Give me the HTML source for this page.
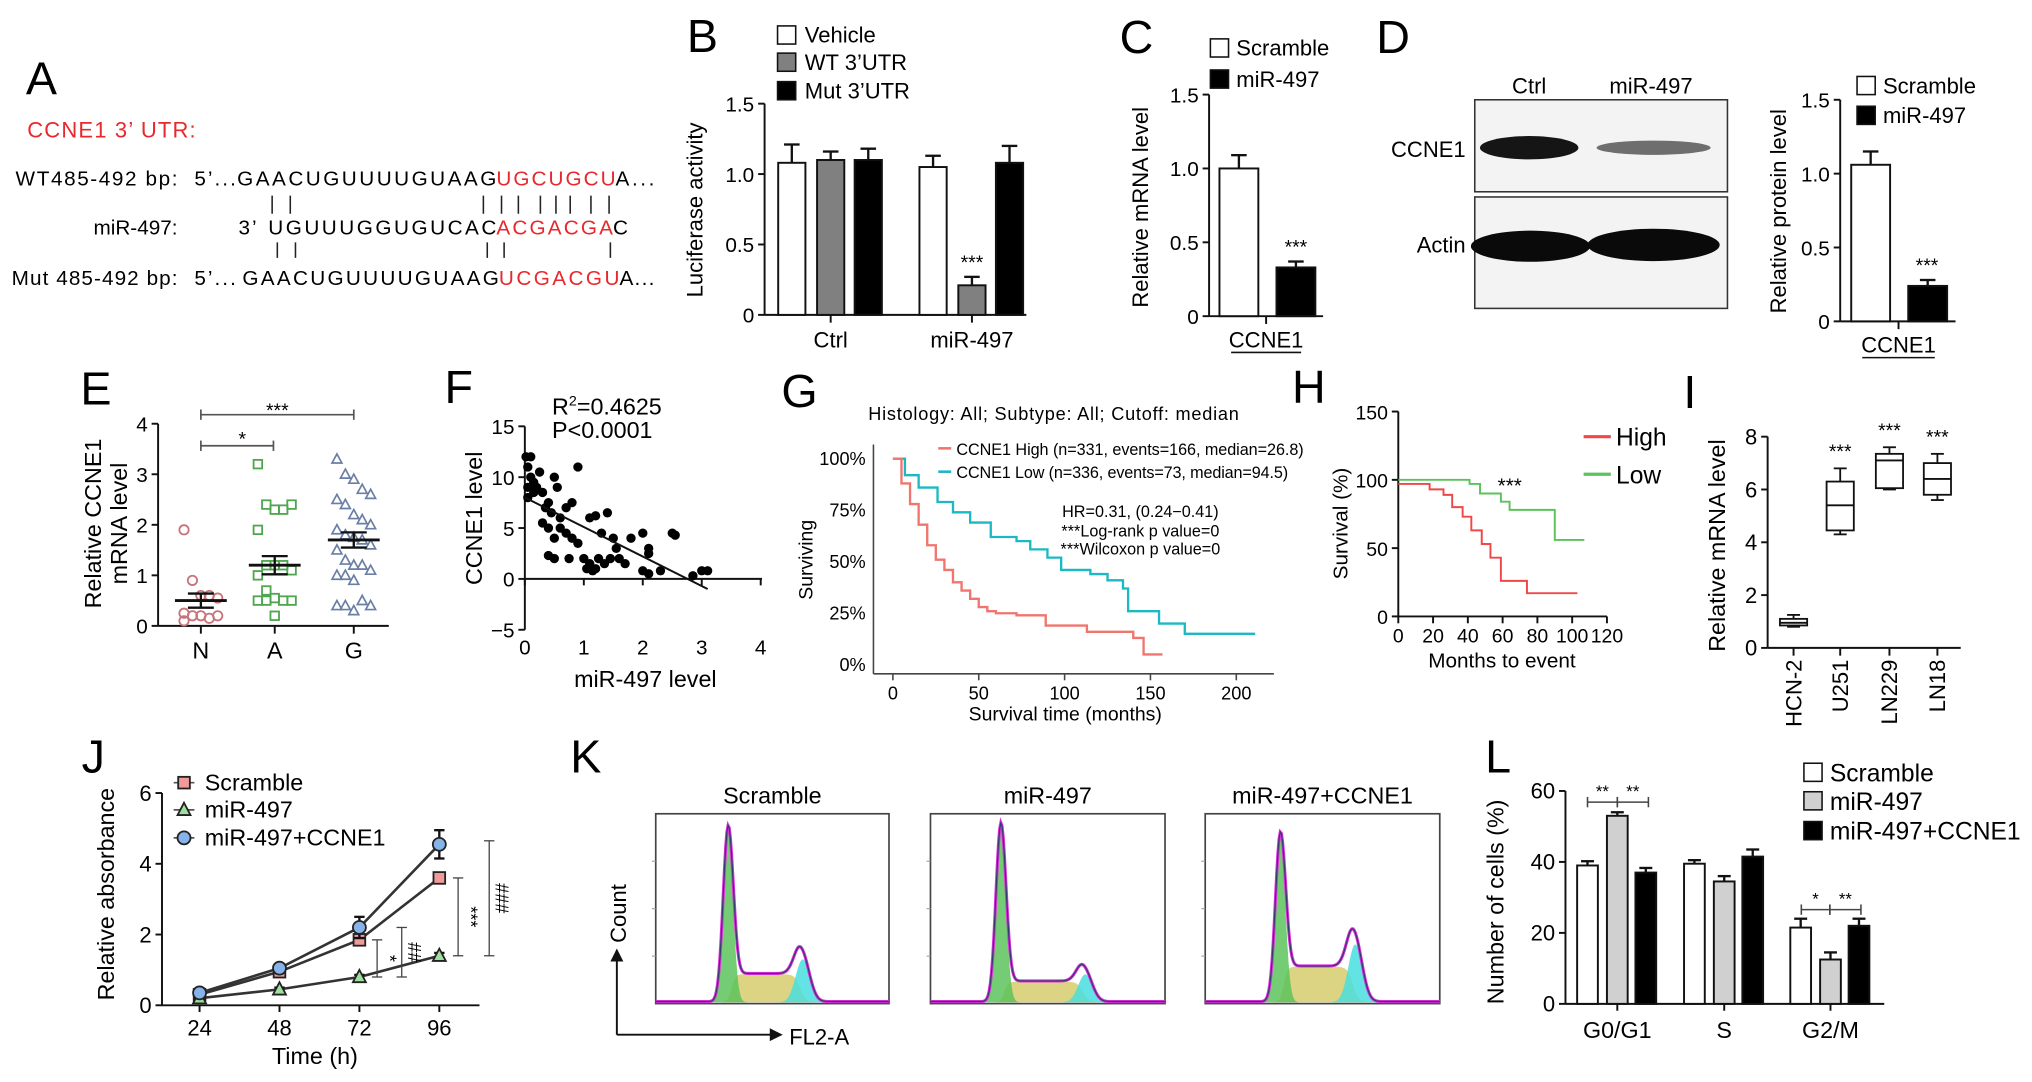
<!DOCTYPE html>
<html><head><meta charset="utf-8"><style>
html,body{margin:0;padding:0;background:#fff;}
svg{display:block;font-family:"Liberation Sans",sans-serif;}
</style></head><body>
<svg id="fig" xmlns="http://www.w3.org/2000/svg" width="2032" height="1082" viewBox="0 0 1568 835" preserveAspectRatio="none">
<rect x="0" y="0" width="1568" height="835" fill="#fff"/>
<!-- Panel A -->
<g font-size="16">
<text x="20" y="73" font-size="36">A</text>
<text x="21" y="106" font-size="17" fill="#e8282c" textLength="130">CCNE1 3’ UTR:</text>
<text x="12" y="143" textLength="125">WT485-492 bp:</text>
<text x="150" y="143" textLength="32">5’...</text>
<text x="183" y="143" textLength="200">GAACUGUUUUGUAAG</text>
<text x="383" y="143" textLength="92" fill="#e8282c">UGCUGCU</text>
<text x="475" y="143" textLength="30">A...</text>
<text x="137" y="181" text-anchor="end">miR-497:</text>
<text x="184" y="181" textLength="14">3’</text>
<text x="207" y="181" textLength="176">UGUUUGGUGUCAC</text>
<text x="383" y="181" textLength="90" fill="#e8282c">ACGACGA</text>
<text x="473" y="181" textLength="12">C</text>
<text x="9" y="220" textLength="128">Mut 485-492 bp:</text>
<text x="150" y="220" textLength="32">5’...</text>
<text x="187" y="220" textLength="198">GAACUGUUUUGUAAG</text>
<text x="385" y="220" textLength="93" fill="#e8282c">UCGACGU</text>
<text x="478" y="220" textLength="27">A...</text>
<g stroke="#222" stroke-width="1.2">
<path d="M210 151V165M224 151V165M373 151V165M387 151V165M400 151V165M417 151V165M429 151V165M440 151V165M456 151V165M470 151V165"/>
<path d="M214 187V199M228 187V199M376 187V199M389 187V199M471 187V199"/>
</g>
</g>
<!-- Panel D blot -->
<g>
<text x="1062" y="41" font-size="36">D</text>
<text x="1180" y="72" font-size="17" text-anchor="middle">Ctrl</text>
<text x="1274" y="72" font-size="17" text-anchor="middle">miR-497</text>
<rect x="1138" y="77" width="195" height="71" fill="#f3f3f3" stroke="#333" stroke-width="1.2"/>
<rect x="1138" y="152" width="195" height="86" fill="#f3f3f3" stroke="#333" stroke-width="1.2"/>
<text x="1131" y="121" font-size="17" text-anchor="end">CCNE1</text>
<text x="1131" y="195" font-size="17" text-anchor="end">Actin</text>
<ellipse cx="1180" cy="114" rx="38" ry="9" fill="#151515"/>
<ellipse cx="1276" cy="114" rx="44" ry="5.5" fill="#6e6e6e"/>
<ellipse cx="1181" cy="190" rx="46" ry="12" fill="#0a0a0a"/>
<ellipse cx="1276" cy="189" rx="51" ry="12.5" fill="#0a0a0a"/>
</g>
<g id="dyn"></g>
</svg>
<script>
// ---------- data ----------
const bCats=['Ctrl','miR-497'];
const bVehicle=[1.08,1.05];
const bWT=[1.10,0.21];
const bMut=[1.10,1.08];
const bVehicleErr=[0.13,0.08];
const bWTErr=[0.06,0.06];
const bMutErr=[0.08,0.12];
const bTicks=[0,0.5,1.0,1.5];
const bTickLabels=['0','0.5','1.0','1.5'];
const cValues=[1.0,0.33];
const cErr=[0.09,0.04];
const dValues=[1.06,0.24];
const dErr=[0.09,0.04];
const cdTicks=[0,0.5,1.0,1.5];
const cdTickLabels=['0','0.5','1.0','1.5'];
const eCats=['N','A','G'];
const eN=[1.9,0.9,0.6,0.6,0.55,0.25,0.2,0.2,0.15,0.2,0.1];
const eA=[3.2,2.4,2.3,2.3,2.4,1.9,1.2,1.2,1.2,1.1,1.0,0.7,0.55,0.5,0.5,0.5,0.5,0.2];
const eG=[3.3,3.0,2.9,2.7,2.6,2.5,2.4,2.2,2.1,2.0,1.9,1.8,1.75,1.7,1.6,1.5,1.3,1.2,1.2,1.1,1.0,1.0,0.9,0.5,0.4,0.4,0.4,0.3];
const eMean=[0.5,1.2,1.7];
const eSem=[0.14,0.18,0.15];
const eTicks=[0,1,2,3,4];
const fX=[0.02,0.1,0.05,0.1,0.15,0.2,0.05,0.3,0.4,0.35,0.5,0.55,0.45,0.6,0.7,0.8,0.9,0.3,0.4,0.4,0.5,0.7,0.8,0.9,0.75,1.0,1.1,1.2,1.05,1.1,1.2,1.4,1.3,1.5,1.55,1.6,1.7,1.45,1.35,1.8,2.0,2.1,2.1,2.0,2.1,2.3,2.5,2.55,2.85,3.0,3.1,0.05,0.15,0.25,0.6,0.5,1.25,1.15];
const fY=[12,12,11,10,9.5,9,9,8.5,7.5,7,10,9,6.5,6,7,7.5,11,5.5,5,2.3,2,4.5,4,3.5,2,2,1.5,1,1,6,6.2,6.5,4.5,4,3,2,1.5,2,1.5,4,4.5,3,2.5,0.8,0.5,0.8,4.5,4.3,0.3,0.8,0.8,8,8.5,10.5,5,4,2,0.8];
const fFit=[8,-2.9];
const fXTicks=[0,1,2,3,4];
const fYTicks=[-5,0,5,10,15];
const gHighT=[0,5,10,15,20,25,30,35,40,45,50,55,60,72,89,113,140,146,157];
const gHighP=[100,88,78,68,58,51,46,40,36,32,28,26,25,24,19,16,13,5,5];
const gLowT=[0,7,15,26,35,45,57,72,80,90,98,115,125,134,137,155,170,211];
const gLowP=[100,92,86,79,74,69,62,60,56,52,46,44,41,37,26,20,15,15];
const gXTicks=[0,50,100,150,200];
const gYTicks=[0,25,50,75,100];
const hHighT=[0,18,26,31,37,42,48,53,59,74,103];
const hHighP=[97,93,89,80,73,63,53,43,26,17,17];
const hLowT=[0,41,47,59,64,90,107];
const hLowP=[100,97,90,84,78,56,56];
const hXTicks=[0,20,40,60,80,100,120];
const hYTicks=[0,50,100,150];
const iCats=['HCN-2','U251','LN229','LN18'];
const iMin=[0.8,4.3,6.0,5.6];
const iQ1=[0.85,4.45,6.05,5.8];
const iMed=[0.95,5.4,7.1,6.4];
const iQ3=[1.1,6.3,7.35,7.0];
const iMax=[1.25,6.8,7.6,7.35];
const iTicks=[0,2,4,6,8];
const jHours=[24,48,72,96];
const jScramble=[0.3,0.95,1.85,3.6];
const jScrambleErr=[0.05,0.08,0.15,0.12];
const jMir=[0.2,0.45,0.8,1.4];
const jMirErr=[0.03,0.05,0.06,0.08];
const jRescue=[0.35,1.05,2.2,4.55];
const jRescueErr=[0.05,0.08,0.3,0.4];
const jTicks=[0,2,4,6];
const kSamples=['Scramble','miR-497','miR-497+CCNE1'];
const kG1Pos=[0.31,0.30,0.32];
const kG1Height=[0.92,0.94,0.88];
const kSLevel=[0.15,0.11,0.19];
const kG2Pos=[0.63,0.66,0.64];
const kG2Height=[0.23,0.15,0.31];
const lCats=['G0/G1','S','G2/M'];
const lScramble=[39,39.5,21.5];
const lMir=[53,34.5,12.5];
const lRescue=[37,41.5,22];
const lScrambleErr=[1.2,1,2.5];
const lMirErr=[1,1.5,2];
const lRescueErr=[1.3,2,2];
const lTicks=[0,20,40,60];

// ---------- helpers ----------
const NS='http://www.w3.org/2000/svg';
const root=document.getElementById('dyn');
function mk(tag,attrs,parent){const e=document.createElementNS(NS,tag);for(const k in attrs)e.setAttribute(k,attrs[k]);(parent||root).appendChild(e);return e;}
function nm(e,name){
  
  
  return e;}
function T(x,y,s,size,extra,name,g){const a=Object.assign({x:x,y:y,'font-size':size},extra||{});const e=mk('text',a,g);e.textContent=s;return nm(e,name);}
function L(x1,y1,x2,y2,name,g,w,col){return nm(mk('line',{x1:x1,y1:y1,x2:x2,y2:y2,stroke:col||'#111','stroke-width':w||1.5},g),name);}
function grp(name){return nm(mk('g',{}),name);}
function lin(d0,d1,r0,r1){return v=>r0+(v-d0)*(r1-r0)/(d1-d0);}
function ylabel(x,y,s,size,name,g){return T(x,y,s,size,{'text-anchor':'middle',transform:'rotate(-90 '+x+' '+y+')'},name,g);}
function yaxis(g,x,ys,ticks,labels,ytop,ybot,size,pref){L(x,ytop,x,ybot,pref+'-y-axis',g);ticks.forEach((t,i)=>{L(x-5,ys(t),x,ys(t),pref+'-y-tick',g);T(x-8,ys(t)+6,labels[i],size,{'text-anchor':'end'},pref+'-y-tick-label',g);});}
function bar(g,cx,w,y0,y1,fill,name){return nm(mk('rect',{x:cx-w/2,y:Math.min(y0,y1),width:w,height:Math.abs(y0-y1),fill:fill,stroke:'#111','stroke-width':1.5},g),name);}
function err(g,cx,yv,ye,cap,name){L(cx,yv,cx,ye,name,g,1.8);L(cx-cap,ye,cx+cap,ye,name+'-cap',g,1.8);}

// ---------- Panel B ----------
(function(){const g=grp('panel-b');
T(530,40,'B',36,{},'panel-b-label',g);
const y=lin(0,1.5,243,80);
yaxis(g,590,y,bTicks,bTickLabels,80,243,16,'b');
L(590,243,792,243,'b-x-axis',g);
ylabel(542,162,'Luciferase activity',17,'b-y-axis-title',g);
const centers=[641,750],offs=[-30,0,29],w=21;
const series=[[bVehicle,bVehicleErr,'#fff','vehicle'],[bWT,bWTErr,'#808080','wt-3utr'],[bMut,bMutErr,'#000','mut-3utr']];
bCats.forEach((c,i)=>{L(centers[i],243,centers[i],249,'b-x-tick',g);T(centers[i],268,c,17,{'text-anchor':'middle'},'b-x-label',g);
 series.forEach((s,j)=>{const cx=centers[i]+offs[j];err(g,cx,y(s[0][i]),y(s[0][i]+s[1][i]),6,'b-error-bar');bar(g,cx,w,y(0),y(s[0][i]),s[2],'bar-'+s[3]);});});
T(centers[1],y(bWT[1]+bWTErr[1])-6,'***',15,{'text-anchor':'middle'},'b-significance',g);
[['Vehicle','#fff',27],['WT 3’UTR','#808080',48],['Mut 3’UTR','#000',70]].forEach(l=>{nm(mk('rect',{x:600,y:l[2]-7,width:14,height:14,fill:l[1],stroke:'#111','stroke-width':1.2},g),'legend-swatch');T(621,l[2]+6,l[0],17,{},'legend-entry',g);});
})();

// ---------- Panel C ----------
(function(){const g=grp('panel-c');
T(864,41,'C',36,{},'panel-c-label',g);
const y=lin(0,1.5,244,73);
yaxis(g,933,y,cdTicks,cdTickLabels,73,244,16,'c');
L(933,244,1021,244,'c-x-axis',g);L(977,244,977,250,'c-x-tick',g);
ylabel(886,160,'Relative mRNA level',17,'c-y-axis-title',g);
const cx=[956,1000],fills=['#fff','#000'],names=['bar-scramble','bar-mir497'];
cValues.forEach((v,i)=>{err(g,cx[i],y(v),y(v+cErr[i]),6,'c-error-bar');bar(g,cx[i],30,y(0),y(v),fills[i],names[i]);});
T(1000,y(cValues[1]+cErr[1])-6,'***',15,{'text-anchor':'middle'},'c-significance',g);
T(977,268,'CCNE1',17,{'text-anchor':'middle'},'c-x-label',g);L(950,272,1004,272,'c-x-underline',g,1.2);
[['Scramble','#fff',37],['miR-497','#000',61]].forEach(l=>{nm(mk('rect',{x:934,y:l[2]-7,width:14,height:14,fill:l[1],stroke:'#111','stroke-width':1.2},g),'legend-swatch');T(954,l[2]+6,l[0],17,{},'legend-entry',g);});
})();

// ---------- Panel D chart ----------
(function(){const g=grp('panel-d-chart');
const y=lin(0,1.5,248,77);
yaxis(g,1420,y,cdTicks,cdTickLabels,77,248,16,'d');
L(1420,248,1509,248,'d-x-axis',g);L(1465,248,1465,254,'d-x-tick',g);
ylabel(1378,163,'Relative protein level',17,'d-y-axis-title',g);
const cx=[1443.5,1487.5],fills=['#fff','#000'],names=['bar-scramble','bar-mir497'];
dValues.forEach((v,i)=>{err(g,cx[i],y(v),y(v+dErr[i]),6,'d-error-bar');bar(g,cx[i],30,y(0),y(v),fills[i],names[i]);});
T(1487,y(dValues[1]+dErr[1])-6,'***',15,{'text-anchor':'middle'},'d-significance',g);
T(1465,272,'CCNE1',17,{'text-anchor':'middle'},'d-x-label',g);L(1437,276,1493,276,'d-x-underline',g,1.2);
[['Scramble','#fff',66],['miR-497','#000',89]].forEach(l=>{nm(mk('rect',{x:1433,y:l[2]-7,width:14,height:14,fill:l[1],stroke:'#111','stroke-width':1.2},g),'legend-swatch');T(1453,l[2]+6,l[0],17,{},'legend-entry',g);});
})();

// ---------- Panel E ----------
(function(){const g=grp('panel-e');
T(62,312,'E',36,{},'panel-e-label',g);
const y=lin(0,4,483,327);
yaxis(g,122,y,eTicks,eTicks.map(String),327,483,16,'e');
L(122,483,300,483,'e-x-axis',g);
ylabel(78,404,'Relative CCNE1',18,'e-y-axis-title-1',g);ylabel(98,404,'mRNA level',18,'e-y-axis-title-2',g);
const xs=[155,212,273],data=[eN,eA,eG],cols=['#c8737a','#4fa64f','#6a7fa5'];
data.forEach((arr,ci)=>{L(xs[ci],483,xs[ci],489,'e-x-tick',g);T(xs[ci],508,eCats[ci],18,{'text-anchor':'middle'},'e-x-label',g);
 arr.forEach((v,i)=>{const dx=((i%5)-2)*6.5,cx=xs[ci]+dx,cy=y(v);let m;
  if(ci===0)m=mk('circle',{cx:cx,cy:cy,r:3.6,fill:'none',stroke:cols[0],'stroke-width':1.4},g);
  else if(ci===1)m=mk('rect',{x:cx-3.3,y:cy-3.3,width:6.6,height:6.6,fill:'none',stroke:cols[1],'stroke-width':1.4},g);
  else m=mk('path',{d:'M'+cx+' '+(cy-4)+'L'+(cx+3.8)+' '+(cy+3)+'L'+(cx-3.8)+' '+(cy+3)+'Z',fill:'none',stroke:cols[2],'stroke-width':1.3},g);
  nm(m,'e-point-'+eCats[ci]);});
 const m=eMean[ci],s=eSem[ci];L(xs[ci]-20,y(m),xs[ci]+20,y(m),'e-mean-line',g,2.2);
 L(xs[ci],y(m-s),xs[ci],y(m+s),'e-sem-bar',g,1.8);L(xs[ci]-10,y(m-s),xs[ci]+10,y(m-s),'e-sem-cap',g,1.8);L(xs[ci]-10,y(m+s),xs[ci]+10,y(m+s),'e-sem-cap',g,1.8);});
L(155,320,273,320,'e-bracket-ng',g,1.3,'#555');L(155,316,155,324,'e-bracket-end',g,1.3,'#555');L(273,316,273,324,'e-bracket-end',g,1.3,'#555');T(214,322,'***',15,{'text-anchor':'middle'},'e-significance',g);
L(155,344,211,344,'e-bracket-na',g,1.3,'#555');L(155,340,155,348,'e-bracket-end',g,1.3,'#555');L(211,340,211,348,'e-bracket-end',g,1.3,'#555');T(187,344,'*',15,{'text-anchor':'middle'},'e-significance',g);
})();

// ---------- Panel F ----------
(function(){const g=grp('panel-f');
T(343,311,'F',36,{},'panel-f-label',g);
const x=lin(0,4,405,587),y=lin(-5,15,486,329);
yaxis(g,405,y,fYTicks,fYTicks.map(v=>v<0?'\u22125':String(v)),329,486,16,'f');
L(405,y(0),588,y(0),'f-x-axis',g);
fXTicks.forEach(t=>{L(x(t),y(0),x(t),y(0)+5,'f-x-tick',g);T(x(t),505,String(t),16,{'text-anchor':'middle'},'f-x-tick-label',g);});
T(498,530,'miR-497 level',18,{'text-anchor':'middle'},'f-x-axis-title',g);
ylabel(372,400,'CCNE1 level',18,'f-y-axis-title',g);
const r=T(426,320,'R',18,{},'f-r-squared',g);const sup=mk('tspan',{'font-size':11,dy:-7},r);sup.textContent='2';const rest=mk('tspan',{dy:7},r);rest.textContent='=0.4625';
T(426,338,'P<0.0001',18,{},'f-p-value',g);
fX.forEach((v,i)=>nm(mk('circle',{cx:x(v),cy:y(fY[i]),r:3.6,fill:'#000'},g),'f-point'));
const x1=0,x2=3.1;L(x(x1),y(fFit[0]+fFit[1]*x1),x(x2),y(fFit[0]+fFit[1]*x2),'f-regression-line',g,1.5);
})();

// ---------- Panel G ----------
(function(){const g=grp('panel-g');
T(603,314,'G',36,{},'panel-g-label',g);
T(670,324,'Histology: All; Subtype: All; Cutoff: median',14,{textLength:286},'g-title',g);
const x=lin(0,200,689,954),y=lin(0,100,513,354);
L(674,343,674,520,'g-y-axis',g,1.2,'#444');L(674,520,983,520,'g-x-axis',g,1.2,'#444');
gYTicks.forEach(t=>T(668,y(t)+5,t+'%',14,{'text-anchor':'end'},'g-y-tick-label',g));
gXTicks.forEach(t=>{L(x(t),520,x(t),525,'g-x-tick',g,1.2,'#444');T(x(t),540,String(t),14,{'text-anchor':'middle'},'g-x-tick-label',g);});
T(822,556,'Survival time (months)',15,{'text-anchor':'middle'},'g-x-axis-title',g);
ylabel(627,432,'Surviving',15,'g-y-axis-title',g);
function km(ts,ps,col,name){let d='M'+x(ts[0])+' '+y(ps[0]);for(let i=1;i<ts.length;i++)d+='H'+x(ts[i])+'V'+y(ps[i]);nm(mk('path',{d:d,fill:'none',stroke:col,'stroke-width':1.8},g),name);}
km(gLowT,gLowP,'#1cb8c3','g-curve-low');km(gHighT,gHighP,'#f0756d','g-curve-high');
L(724,346,734,346,'g-legend-line-high',g,2,'#f0756d');T(738,351,'CCNE1 High (n=331, events=166, median=26.8)',12.5,{textLength:268},'g-legend-high',g);
L(724,364,734,364,'g-legend-line-low',g,2,'#1cb8c3');T(738,369,'CCNE1 Low (n=336, events=73, median=94.5)',12.5,{textLength:256},'g-legend-low',g);
T(880,399,'HR=0.31, (0.24\u22120.41)',12.5,{'text-anchor':'middle'},'g-hazard-ratio',g);
T(880,414,'***Log-rank p value=0',12.5,{'text-anchor':'middle'},'g-logrank',g);
T(880,428,'***Wilcoxon p value=0',12.5,{'text-anchor':'middle'},'g-wilcoxon',g);
})();

// ---------- Panel H ----------
(function(){const g=grp('panel-h');
T(997,311,'H',36,{},'panel-h-label',g);
const x=lin(0,120,1079,1240),y=lin(0,150,475.7,317.6);
yaxis(g,1079,y,hYTicks,hYTicks.map(String),317.6,475.7,15,'h');
L(1079,475.7,1240,475.7,'h-x-axis',g);
hXTicks.forEach(t=>{L(x(t),475.7,x(t),481,'h-x-tick',g);T(x(t),496,String(t),15,{'text-anchor':'middle'},'h-x-tick-label',g);});
T(1159,515,'Months to event',16,{'text-anchor':'middle'},'h-x-axis-title',g);
ylabel(1040,404,'Survival (%)',16,'h-y-axis-title',g);
function km(ts,ps,col,name){let d='M'+x(ts[0])+' '+y(ps[0]);for(let i=1;i<ts.length;i++)d+='H'+x(ts[i])+'V'+y(ps[i]);nm(mk('path',{d:d,fill:'none',stroke:col,'stroke-width':1.5},g),name);}
km(hLowT,hLowP,'#5cc25c','h-curve-low');km(hHighT,hHighP,'#f04848','h-curve-high');
T(1165,380,'***',16,{'text-anchor':'middle'},'h-significance',g);
L(1222,337,1243,337,'h-legend-line-high',g,2.5,'#f04848');T(1247,344,'High',19,{},'h-legend-high',g);
L(1222,366,1243,366,'h-legend-line-low',g,2.5,'#5cc25c');T(1247,373,'Low',19,{},'h-legend-low',g);
})();

// ---------- Panel I ----------
(function(){const g=grp('panel-i');
T(1299,315,'I',36,{},'panel-i-label',g);
const y=lin(0,8,500,337),xs=[1384,1420,1458,1495],w=21;
yaxis(g,1364,y,iTicks,iTicks.map(String),337,500,17,'i');
L(1364,500,1513,500,'i-x-axis',g);
ylabel(1331,421,'Relative mRNA level',18,'i-y-axis-title',g);
iCats.forEach((c,i)=>{const cx=xs[i];L(cx,500,cx,506,'i-x-tick',g);
 T(cx+6,509,c,17,{'text-anchor':'end',transform:'rotate(-90 '+(cx+6)+' 509)'},'i-x-label',g);
 L(cx,y(iMin[i]),cx,y(iMax[i]),'i-whisker',g,1.4);L(cx-5,y(iMin[i]),cx+5,y(iMin[i]),'i-whisker-cap',g,1.4);L(cx-5,y(iMax[i]),cx+5,y(iMax[i]),'i-whisker-cap',g,1.4);
 nm(mk('rect',{x:cx-w/2,y:y(iQ3[i]),width:w,height:y(iQ1[i])-y(iQ3[i]),fill:'#fff',stroke:'#111','stroke-width':1.4},g),'i-box-'+c);
 L(cx-w/2,y(iMed[i]),cx+w/2,y(iMed[i]),'i-median',g,1.4);
 if(i>0)T(cx,y(iMax[i])-8,'***',15,{'text-anchor':'middle'},'i-significance',g);});
})();

// ---------- Panel J ----------
(function(){const g=grp('panel-j');
T(63,596,'J',36,{},'panel-j-label',g);
const x=lin(24,96,154,339),y=lin(0,6,775.8,612);
yaxis(g,125,y,jTicks,jTicks.map(String),612,775.8,17,'j');
L(125,775.8,370,775.8,'j-x-axis',g);
jHours.forEach(h=>{L(x(h),775.8,x(h),781,'j-x-tick',g);T(x(h),799,String(h),17,{'text-anchor':'middle'},'j-x-tick-label',g);});
T(243,821,'Time (h)',18,{'text-anchor':'middle'},'j-x-axis-title',g);
ylabel(88,690,'Relative absorbance',18,'j-y-axis-title',g);
function marker(kind,cx,cy,name){let m;
 if(kind==='sq')m=mk('rect',{x:cx-4.5,y:cy-4.5,width:9,height:9,fill:'#f19a9a',stroke:'#222','stroke-width':1.4},g);
 else if(kind==='tri')m=mk('path',{d:'M'+cx+' '+(cy-5.5)+'L'+(cx+5)+' '+(cy+4)+'L'+(cx-5)+' '+(cy+4)+'Z',fill:'#9fe09f',stroke:'#222','stroke-width':1.4},g);
 else m=mk('circle',{cx:cx,cy:cy,r:5,fill:'#86b4ea',stroke:'#222','stroke-width':1.4},g);
 nm(m,name);}
const series=[[jScramble,jScrambleErr,'sq','scramble'],[jMir,jMirErr,'tri','mir497'],[jRescue,jRescueErr,'ci','mir497-ccne1']];
series.forEach(s=>{let d='';jHours.forEach((h,i)=>{d+=(i?'L':'M')+x(h)+' '+y(s[0][i]);});nm(mk('path',{d:d,fill:'none',stroke:'#333','stroke-width':2},g),'j-line-'+s[3]);});
series.forEach(s=>{jHours.forEach((h,i)=>{const v=s[0][i],e=s[1][i];L(x(h),y(v-e),x(h),y(v+e),'j-error-bar',g,1.8);L(x(h)-4,y(v+e),x(h)+4,y(v+e),'j-error-cap',g,1.8);L(x(h)-4,y(v-e),x(h)+4,y(v-e),'j-error-cap',g,1.8);marker(s[2],x(h),y(v),'j-point-'+s[3]);});});
function brk(bx,v0,v1,lab,name){L(bx,y(v0),bx,y(v1),name,g,1,'#444');L(bx-4,y(v0),bx+4,y(v0),name+'-cap',g,1,'#444');L(bx-4,y(v1),bx+4,y(v1),name+'-cap',g,1,'#444');const my=(y(v0)+y(v1))/2;T(bx+5,my,lab,14,{'text-anchor':'middle',transform:'rotate(90 '+(bx+5)+' '+my+')'},name+'-label',g);}
brk(291,jMir[2],jScramble[2],'*','j-bracket-72-scramble');brk(310,jMir[2],jRescue[2],'##','j-bracket-72-rescue');
brk(353.5,jMir[3],jScramble[3],'***','j-bracket-96-scramble');brk(377.5,jMir[3],jRescue[3]+0.1,'###','j-bracket-96-rescue');
[['Scramble','sq',604],['miR-497','tri',625],['miR-497+CCNE1','ci',646.6]].forEach(l=>{L(134,l[2],150,l[2],'j-legend-line',g,1.3,'#555');marker(l[1],142,l[2],'j-legend-marker');T(158,l[2]+6,l[0],18,{},'j-legend-entry',g);});
})();

// ---------- Panel K ----------
(function(){const g=grp('panel-k');
T(440,596,'K',36,{},'panel-k-label',g);
const boxes=[[506,686],[718,899],[930,1111]],top=628,bot=774.5,H=bot-top-2;
L(476,798.5,476,740,'k-count-arrow',g,1.5);nm(mk('path',{d:'M471 742L476 732L481 742Z',fill:'#111'},g),'k-count-arrowhead');
L(476,798.5,596,798.5,'k-fl2a-arrow',g,1.5);nm(mk('path',{d:'M594 793.5L604 798.5L594 803.5Z',fill:'#111'},g),'k-fl2a-arrowhead');
ylabel(483,705,'Count',17,'k-y-axis-title',g);T(609,806,'FL2-A',17,{},'k-x-axis-title',g);
function gau(c,mu,s){return Math.exp(-0.5*((c-mu)/s)*((c-mu)/s));}
function sig(c){return 1/(1+Math.exp(-c));}
kSamples.forEach((name,k)=>{const x0=boxes[k][0],x1=boxes[k][1],W=x1-x0;
 nm(mk('rect',{x:x0,y:top,width:W,height:bot-top,fill:'#fff',stroke:'#444','stroke-width':1.3},g),'k-histogram-frame');
 T((x0+x1)/2,620,name,18,{'text-anchor':'middle'},'k-title',g);
 const X=c=>x0+c*W,Y=v=>bot-1-v*H;const g1=c=>kG1Height[k]*gau(c,kG1Pos[k],0.021);const g2=c=>kG2Height[k]*gau(c,kG2Pos[k],0.03);
 const sc=c=>kSLevel[k]*sig((c-kG1Pos[k]-0.015)/0.008)*sig((kG2Pos[k]-0.01-c)/0.012);
 const N=200;let pS='M'+X(0)+' '+Y(0),p1=pS,p2=pS,tot='';
 for(let i=0;i<=N;i++){const c=i/N;pS+='L'+X(c)+' '+Y(sc(c));p1+='L'+X(c)+' '+Y(g1(c));p2+='L'+X(c)+' '+Y(g2(c));tot+=(i?'L':'M')+X(c)+' '+Y(g1(c)+g2(c)+sc(c)+0.004);}
 const close='L'+X(1)+' '+Y(0)+'Z';
 nm(mk('path',{d:pS+close,fill:'#d8cf74',opacity:0.9},g),'k-s-phase-area');
 nm(mk('path',{d:p1+close,fill:'#5cc35c',opacity:0.85},g),'k-g1-area');
 nm(mk('path',{d:p2+close,fill:'#48dede',opacity:0.85},g),'k-g2-area');
 nm(mk('path',{d:tot,fill:'none',stroke:'#e030e0','stroke-width':2.4},g),'k-fit-outline');
 nm(mk('path',{d:tot,fill:'none',stroke:'#3a3a70','stroke-width':1},g),'k-histogram-line');
 [0.25,0.5,0.75].forEach(f=>L(x0-3,top+f*(bot-top),x0,top+f*(bot-top),'k-y-tick',g,0.8,'#999'));
});
})();

// ---------- Panel L ----------
(function(){const g=grp('panel-l');
T(1146,596,'L',36,{},'panel-l-label',g);
const y=lin(0,60,774.7,610.4);
yaxis(g,1208,y,lTicks,lTicks.map(String),610.4,774.7,17,'l');
L(1208,774.7,1454,774.7,'l-x-axis',g);
ylabel(1160,696,'Number of cells (%)',18,'l-y-axis-title',g);
const centers=[1248,1330.5,1412.5],offs=[-23,0,22],w=16;
const series=[[lScramble,lScrambleErr,'#fff','scramble'],[lMir,lMirErr,'#d0d0d0','mir497'],[lRescue,lRescueErr,'#000','mir497-ccne1']];
lCats.forEach((c,i)=>{L(centers[i],774.7,centers[i],780,'l-x-tick',g);T(centers[i],801,c,18,{'text-anchor':'middle'},'l-x-label',g);
 series.forEach((s,j)=>{const cx=centers[i]+offs[j];err(g,cx,y(s[0][i]),y(s[0][i]+s[1][i]),5,'l-error-bar');bar(g,cx,w,y(0),y(s[0][i]),s[2],'bar-'+s[3]+'-'+c);});});
function sb(xa,xb,yy,lab){L(xa,yy,xb,yy,'l-bracket',g,1.2,'#444');L(xa,yy-4,xa,yy+4,'l-bracket-end',g,1.2,'#444');L(xb,yy-4,xb,yy+4,'l-bracket-end',g,1.2,'#444');T((xa+xb)/2,yy-4,lab,13,{'text-anchor':'middle'},'l-significance',g);}
sb(1225,1248,619,'**');sb(1248,1272,619,'**');sb(1390,1412,702,'*');sb(1412,1436,702,'**');
[['Scramble','#fff',596],['miR-497','#d0d0d0',618],['miR-497+CCNE1','#000',641]].forEach(l=>{nm(mk('rect',{x:1392,y:l[2]-7,width:14,height:14,fill:l[1],stroke:'#111','stroke-width':1.2},g),'legend-swatch');T(1412,l[2]+7,l[0],19,{},'legend-entry',g);});
})();
</script>
</body></html>
